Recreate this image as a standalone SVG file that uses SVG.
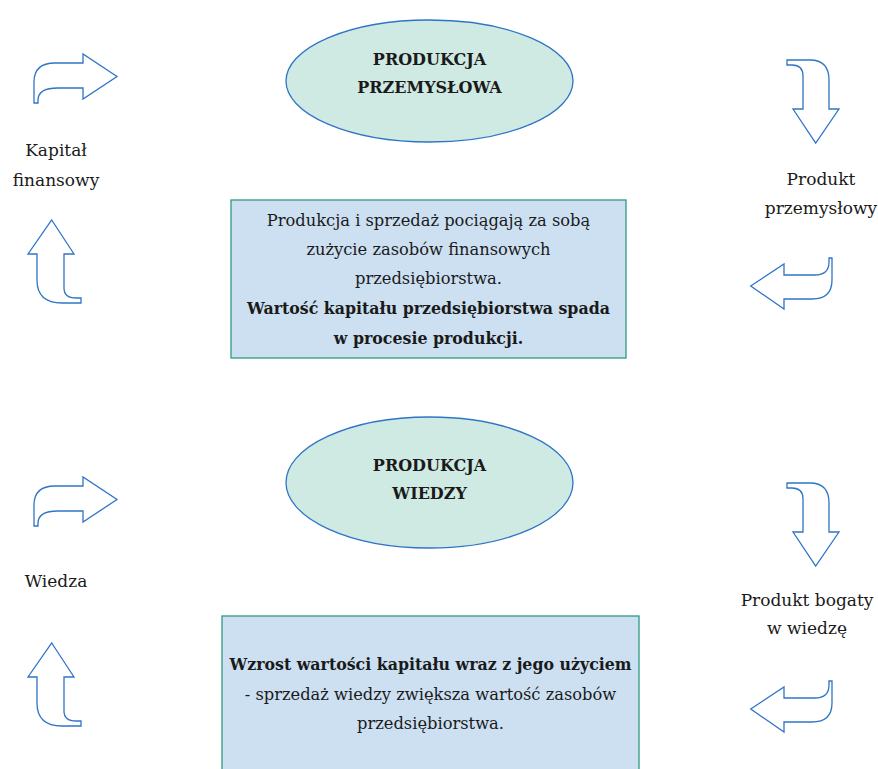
<svg xmlns="http://www.w3.org/2000/svg" width="878" height="769" viewBox="0 0 878 769">
<style>
text{font-family:"DejaVu Serif","Liberation Serif",serif;font-size:16.3px;fill:#1a1a1a;text-anchor:middle}
.b{font-weight:bold;font-size:15.8px}
.h{font-weight:bold;font-size:16px}
.l{font-size:17px}
.ell{fill:#cfe9e3;stroke:#2e75c6;stroke-width:1.3}
.box{fill:#cce0f2;stroke:#2e9a80;stroke-width:1.3}
.arr{fill:#ffffff;stroke:#2e75c6;stroke-width:1.3;stroke-linejoin:miter}
</style>
<defs>
<path id="aRight" d="M34,103 L34,82 Q34,63 55,63 L83,63 L83,54 L117,76.5 L83,99 L83,88 L58,88 Q38,88 38,100 L38,103 Z"/>
<path id="aUp" d="M51.7,220 L74,254 L64,254 L64,288 Q64,298 76,298 L81,298 L81,303 L62,303 Q37,303 37,280 L37,254 L28,254 Z"/>
<path id="aDown" d="M787,60 L810,60 Q829,60 829,80 L829,109 L839,109 L815.7,143 L793,109 L803,109 L803,76 Q803,65 792,65 L787,65 Z"/>
<path id="aLeft" d="M750.7,286 L784,264 L784,275 L815,275 Q829,275 829,262 L829,258 L832,258 L832,280 Q832,299 812,299 L784,299 L784,309 Z"/>
</defs>
<g id="connectors">
<use href="#aRight" class="arr"/>
<use href="#aUp" class="arr"/>
<use href="#aDown" class="arr"/>
<use href="#aLeft" class="arr"/>
<use href="#aRight" class="arr" transform="translate(0,423)"/>
<use href="#aUp" class="arr" transform="translate(0,423)"/>
<use href="#aDown" class="arr" transform="translate(0,423)"/>
<use href="#aLeft" class="arr" transform="translate(0,423)"/>
</g>
<g id="node-produkcja-przemyslowa">
<ellipse class="ell" cx="429.5" cy="81" rx="143.5" ry="61"/>
<text class="h" x="429.5" y="65">PRODUKCJA</text>
<text class="h" x="429.5" y="93">PRZEMYSŁOWA</text>
</g>
<g id="node-box1">
<rect class="box" x="231" y="200" width="395" height="158"/>
<text x="428.5" y="226">Produkcja i sprzedaż pociągają za sobą</text>
<text x="428.5" y="255">zużycie zasobów finansowych</text>
<text x="428.5" y="284">przedsiębiorstwa.</text>
<text class="b" x="428.5" y="314">Wartość kapitału przedsiębiorstwa spada</text>
<text class="b" x="428.5" y="344">w procesie produkcji.</text>
</g>
<g id="node-produkcja-wiedzy">
<ellipse class="ell" cx="429.5" cy="482.5" rx="143.5" ry="65.5"/>
<text class="h" x="429.5" y="471">PRODUKCJA</text>
<text class="h" x="429.5" y="499">WIEDZY</text>
</g>
<g id="node-box2">
<rect class="box" x="222" y="616" width="417" height="160"/>
<text class="b" x="430.5" y="670">Wzrost wartości kapitału wraz z jego użyciem</text>
<text x="430.5" y="700">- sprzedaż wiedzy zwiększa wartość zasobów</text>
<text x="430.5" y="729">przedsiębiorstwa.</text>
</g>
<g id="label-kapital">
<text class="l" x="56" y="156">Kapitał</text>
<text class="l" x="56" y="186">finansowy</text>
</g>
<g id="label-produkt-przem">
<text class="l" x="821" y="185">Produkt</text>
<text class="l" x="821" y="214">przemysłowy</text>
</g>
<g id="label-wiedza">
<text class="l" x="56" y="587">Wiedza</text>
</g>
<g id="label-produkt-bogaty">
<text class="l" x="807" y="606">Produkt bogaty</text>
<text class="l" x="807" y="634">w wiedzę</text>
</g>
</svg>
